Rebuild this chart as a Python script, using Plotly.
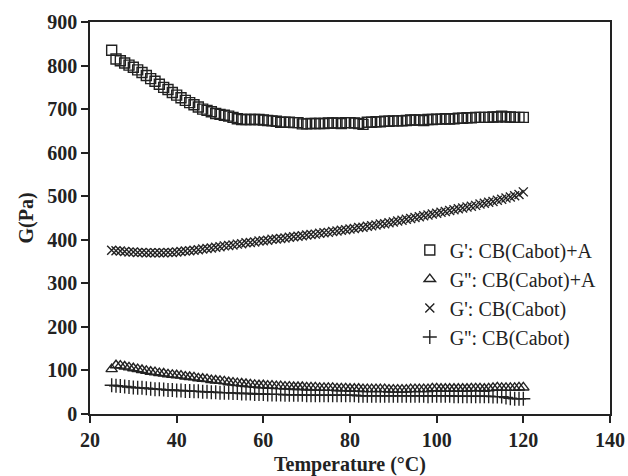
import plotly.graph_objects as go

temps = list(range(25, 121))

g1_cba = [835, 815, 811, 806, 801, 796, 790, 784, 777, 770, 764, 757, 750, 745, 738, 732,
          726, 720, 715, 710, 705, 700, 697, 694, 690, 688, 686, 684, 681, 678, 676, 676,
          676, 676, 676, 675, 674, 673, 672, 670, 670, 670, 669, 669, 666, 666, 667, 667,
          667, 667, 668, 668, 668, 667, 669, 669, 668, 667, 665, 670, 670, 671, 671, 672,
          672, 673, 673, 673, 674, 675, 675, 675, 674, 676, 676, 677, 677, 678, 677, 678,
          679, 679, 680, 680, 681, 681, 681, 681, 682, 682, 684, 682, 682, 681, 681, 681]

g2_cba = [103, 112, 111, 109, 107, 105, 103, 101, 99, 97, 96, 94, 93, 91, 90, 89,
          88, 86, 85, 84, 82, 81, 80, 78, 77, 76, 75, 73, 72, 71, 70, 69,
          68, 67, 66, 66, 65, 65, 64, 64, 63, 63, 62, 62, 62, 61, 61, 61,
          60, 60, 60, 60, 59, 59, 59, 58, 58, 58, 57, 57, 57, 57, 57, 57,
          56, 56, 56, 56, 56, 57, 57, 57, 57, 57, 59, 59, 58, 58, 58, 58,
          58, 58, 58, 59, 59, 59, 58, 59, 60, 61, 60, 60, 60, 60, 61, 61]

g1_cb = [376, 375, 374, 373, 372, 372, 371, 371, 370, 370, 370, 370, 370, 371, 371, 372,
         373, 374, 375, 376, 377, 379, 380, 381, 383, 384, 386, 387, 388, 390, 391, 393,
         394, 395, 397, 398, 399, 401, 402, 403, 404, 406, 407, 408, 409, 411, 412, 413,
         415, 416, 417, 419, 420, 422, 423, 425, 426, 428, 429, 431, 432, 434, 436, 437,
         439, 441, 443, 445, 447, 449, 451, 453, 455, 457, 459, 461, 463, 465, 467, 469,
         471, 473, 475, 477, 479, 482, 484, 486, 488, 491, 493, 496, 498, 501, 504, 510]

g2_cb = [66, 65, 64, 63, 62, 61, 60, 60, 59, 58, 57, 57, 56, 55, 55, 54,
         54, 53, 53, 52, 52, 51, 51, 50, 50, 49, 49, 49, 48, 48, 47, 47,
         47, 46, 46, 46, 45, 45, 45, 45, 44, 44, 44, 44, 44, 43, 43, 43,
         43, 43, 43, 43, 43, 43, 43, 43, 43, 42, 42, 42, 42, 42, 42, 42,
         42, 42, 42, 42, 42, 42, 42, 42, 42, 41, 42, 42, 42, 42, 42, 41,
         41, 41, 41, 41, 41, 41, 41, 41, 40, 40, 40, 38, 36, 35, 35, 35]

names = ["G': CB(Cabot)+A", "G'': CB(Cabot)+A", "G': CB(Cabot)", "G'': CB(Cabot)"]
series = [g1_cba, g2_cba, g1_cb, g2_cb]
symbols = ["square-open", "triangle-up-open", "x-thin-open", "cross-thin-open"]
sizes = [10, 10, 9, 10]

fig = go.Figure()
for i, (nm, ys, sym, sz) in enumerate(zip(names, series, symbols, sizes)):
    fig.add_trace(go.Scatter(
        x=temps, y=ys, mode="markers", name=nm, legendgroup=str(i),
        marker=dict(symbol=sym, size=sz, color="#222222",
                    line=dict(color="#222222", width=1.4)),
    ))

tick_font = dict(family="Liberation Serif", size=20, color="#222222", weight="bold")
title_font = dict(family="Liberation Serif", size=20, color="#222222")
fig.update_layout(
    width=628, height=476,
    margin=dict(l=90, r=18, t=22, b=62),
    paper_bgcolor="white", plot_bgcolor="white",
    font=dict(family="Liberation Serif", color="#222222"),
    showlegend=True,
    legend=dict(x=0.615, y=0.468, xanchor="left", yanchor="top",
                font=dict(family="Liberation Serif", size=20, color="#222222"),
                tracegroupgap=0, itemwidth=30, bgcolor="rgba(0,0,0,0)"),
    xaxis=dict(range=[20, 140], tickvals=[20, 40, 60, 80, 100, 120, 140],
               ticks="outside", ticklen=7, tickwidth=1.5, tickcolor="#222222",
               showline=True, linecolor="#222222", linewidth=1.5, mirror=True,
               showgrid=False, zeroline=False, tickfont=tick_font, automargin=False,
               title=dict(text="<b>Temperature (°C)</b>", standoff=12, font=title_font)),
    yaxis=dict(range=[0, 900], tickvals=list(range(0, 901, 100)), ticksuffix=" ",
               ticks="outside", ticklen=7, tickwidth=1.5, tickcolor="#222222",
               showline=True, linecolor="#222222", linewidth=1.5, mirror=True,
               showgrid=False, zeroline=False, tickfont=tick_font, automargin=False,
               title=dict(text="<b>G(Pa)</b>", standoff=8, font=title_font)),
)

fig.write_html("out.html")
